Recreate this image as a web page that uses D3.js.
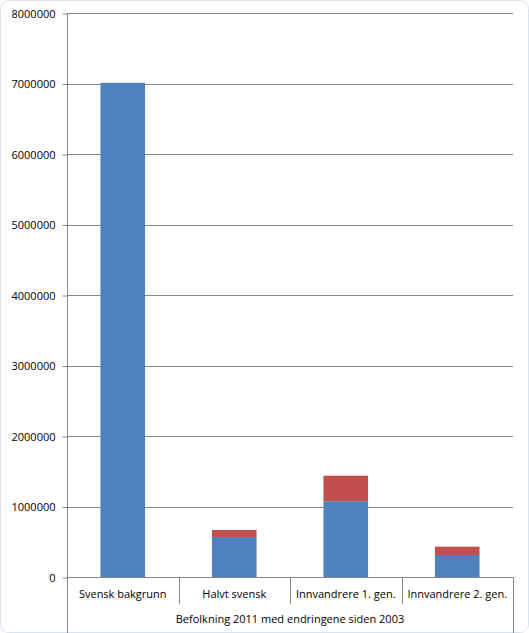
<!DOCTYPE html>
<html>
<head>
<meta charset="utf-8">
<script src="https://cdn.jsdelivr.net/npm/d3@7"></script>
<style>
  body { margin: 0; background: #fff; }
  text { font-family: "Open Sans", "Noto Sans", sans-serif; fill: #000; }
</style>
</head>
<body>
<svg id="chart" width="529" height="633"></svg>
<script>
// data
const categories = ['Svensk bakgrunn', 'Halvt svensk', 'Innvandrere 1. gen.', 'Innvandrere 2. gen.'];
const base2003 = [7010000, 567000, 1075000, 312000];
const change = [0, 100000, 362000, 118000];
const yTicks = [0, 1000000, 2000000, 3000000, 4000000, 5000000, 6000000, 7000000, 8000000];
const groupLabel = 'Befolkning 2011 med endringene siden 2003';

const svg = d3.select('#chart');
const plotLeft = 67, plotRight = 513, plotTop = 13, plotBottom = 577;

const x = d3.scaleBand().domain(categories).range([plotLeft, plotRight]).paddingInner(0.6).paddingOuter(0.3);
const band = d3.scaleBand().domain(categories).range([plotLeft, plotRight]);
const y = d3.scaleLinear().domain([0, 8000000]).range([plotBottom, plotTop]);

// faint chart border
svg.append('rect')
  .attr('x', 0.5).attr('y', 0.5).attr('width', 528).attr('height', 632)
  .attr('rx', 8).attr('fill', 'none').attr('stroke', '#d9e3ee');

// gridlines
svg.append('g').selectAll('line')
  .data(yTicks.slice(1))
  .enter().append('line')
  .attr('x1', plotLeft).attr('x2', plotRight)
  .attr('y1', function (d) { return Math.round(y(d)) + 0.5; })
  .attr('y2', function (d) { return Math.round(y(d)) + 0.5; })
  .attr('stroke', '#868686');

// y axis
const yAxis = svg.append('g')
  .attr('transform', 'translate(' + (plotLeft + 0.5) + ',0.5)')
  .call(d3.axisLeft(y).tickValues(yTicks).tickSize(5).tickPadding(7).tickFormat(d3.format('d')));
yAxis.select('.domain').attr('stroke', '#868686').attr('d', 'M0,' + Math.round(plotTop) + 'V633');
yAxis.selectAll('.tick line').attr('stroke', '#868686');
yAxis.selectAll('.tick text').attr('font-size', '11px').attr('fill', '#000');

// stacked bars
const stacked = categories.map(function (c, i) { return { cat: c, base: base2003[i], change: change[i] }; });
const series = d3.stack().keys(['base', 'change'])(stacked);
const colors = { base: '#4f81bd', change: '#c0504d' };

svg.append('g').selectAll('g')
  .data(series)
  .enter().append('g')
  .attr('fill', function (s) { return colors[s.key]; })
  .selectAll('rect')
  .data(function (s) { return s; })
  .enter().append('rect')
  .attr('x', function (d) { return x(d.data.cat); })
  .attr('width', x.bandwidth())
  .attr('y', function (d) { return y(d[1]); })
  .attr('height', function (d) { return y(d[0]) - y(d[1]); });

// category axis
const xg = svg.append('g');
xg.append('line')
  .attr('x1', plotLeft).attr('x2', plotRight + 0.5)
  .attr('y1', plotBottom + 0.5).attr('y2', plotBottom + 0.5)
  .attr('stroke', '#868686');
xg.selectAll('.sep')
  .data(categories.slice(1))
  .enter().append('line')
  .attr('x1', function (d) { return Math.round(band(d)) + 0.5; })
  .attr('x2', function (d) { return Math.round(band(d)) + 0.5; })
  .attr('y1', plotBottom).attr('y2', 604)
  .attr('stroke', '#868686');
xg.append('line')
  .attr('x1', plotRight + 0.5).attr('x2', plotRight + 0.5)
  .attr('y1', plotBottom).attr('y2', 633)
  .attr('stroke', '#868686');
xg.selectAll('.lbl')
  .data(categories)
  .enter().append('text')
  .attr('x', function (d) { return band(d) + band.bandwidth() / 2; })
  .attr('y', 598)
  .attr('text-anchor', 'middle')
  .attr('font-size', '11px')
  .text(function (d) { return d; });
xg.append('text')
  .attr('x', (plotLeft + plotRight) / 2)
  .attr('y', 623)
  .attr('text-anchor', 'middle')
  .attr('font-size', '11px')
  .text(groupLabel);
</script>
</body>
</html>
